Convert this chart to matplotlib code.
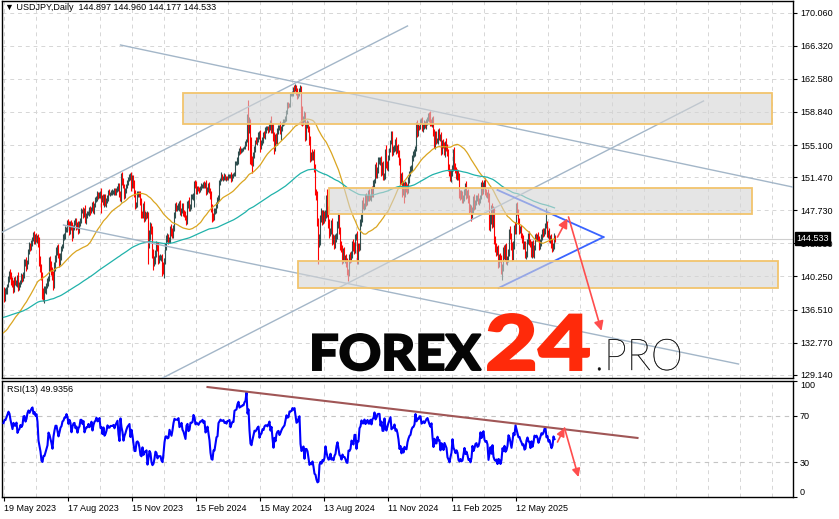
import numpy as np
import pandas as pd
import matplotlib
matplotlib.use("Agg")
import matplotlib.pyplot as plt
from matplotlib.patches import Rectangle, PathPatch
from matplotlib.textpath import TextPath
from matplotlib.font_manager import FontProperties
from matplotlib.transforms import Affine2D

# ---------------- data ----------------
# hidden warm-up closes (late Jul 2022 - 18 May 2023), only used for MA / RSI history
pre_closes = [
    136.7, 136.9, 136.6, 134.3, 133.2, 131.6, 133.2, 133.9, 133.0, 135.0,
    134.9, 135.0, 133.0, 133.0, 133.5, 133.3, 134.2, 134.9, 135.9, 136.9,
    137.5, 136.8, 137.2, 136.5, 137.5, 138.8, 138.7, 139.0, 140.2, 140.2,
    140.5, 142.8, 144.0, 144.1, 142.6, 142.8, 144.6, 143.2, 143.5, 143.0,
    143.2, 143.7, 144.4, 142.4, 143.3, 144.7, 144.8, 144.2, 144.5, 144.7,
    144.8, 144.2, 144.6, 145.1, 145.3, 145.7, 145.9, 146.9, 147.2, 148.7,
    149.0, 149.2, 149.9, 150.1, 147.7, 148.9, 148.0, 146.4, 146.3, 147.5,
    148.7, 148.2, 147.9, 148.3, 146.6, 146.6, 145.6, 146.5, 141.0, 138.8,
    139.9, 139.3, 139.5, 140.3, 140.4, 142.1, 141.2, 139.6, 138.6, 139.2,
    138.9, 138.1, 138.1, 135.3, 134.3, 136.8, 137.0, 136.6, 136.4, 136.6,
    137.6, 135.6, 135.5, 137.7, 136.7, 137.0, 131.7, 132.4, 132.3, 132.9,
    133.5, 134.5, 133.1, 131.1, 130.9, 132.1, 133.4, 132.1,
    131.9, 132.3, 132.5, 129.1, 127.9, 128.6, 131.1, 128.9, 128.4, 129.6,
    130.7, 130.2, 129.2, 130.2, 129.9, 130.4, 130.1, 128.9, 128.7, 131.2,
    132.6, 131.1, 131.4, 131.4, 131.4, 132.4, 133.2, 134.1, 134.0, 134.2,
    134.3, 134.9, 134.9, 134.7, 136.5, 136.2, 136.2, 136.2, 136.7, 135.9,
    135.9, 137.2, 137.3, 136.1, 134.9, 133.1, 134.2, 133.4, 133.7, 131.8,
    131.3, 132.5, 131.4, 130.8, 130.8, 131.5, 130.9, 132.9, 132.7, 132.8,
    132.4, 131.4, 131.3, 131.8, 132.2, 133.6, 133.7, 133.9, 132.7, 133.8,
    134.5, 134.1, 134.7, 134.2, 134.1, 134.2, 133.7, 133.6, 133.9, 136.3,
    137.5, 136.6, 134.8, 134.3, 134.8, 135.1, 135.3, 134.3, 134.5, 135.7,
    136.1, 136.4, 137.6, 138.7,
]

# daily closes, 19 May 2023 -> 4 Jul 2025 (one bar per pixel); open = previous close
closes = [
    137.9,
    138.6, 138.6, 139.2, 139.9, 140.6, 140.4, 139.8, 139.3, 138.8, 139.9,
    139.6, 139.6, 140.1, 139.0, 139.4, 139.6, 140.2, 140.0, 140.3, 141.8,
    141.9, 141.4, 141.9, 143.1, 143.7, 143.5, 144.0, 144.5, 144.8, 144.3,
    144.7, 144.4, 144.7, 144.1, 142.1, 141.3, 140.4, 138.4, 138.1, 138.8,
    138.8, 139.2, 139.6, 140.0, 141.8, 141.5, 140.9, 140.3, 139.4, 141.2,
    142.3, 143.3, 143.3, 142.6, 141.8, 142.5, 143.4, 143.7, 144.7, 144.9,
    145.6, 145.6, 146.4, 146.1, 145.4, 146.2, 145.9, 144.8, 145.8, 146.4,
    146.5, 145.9, 146.2, 145.5, 146.2, 146.5, 147.7, 147.7, 147.3, 147.8,
    146.6, 147.1, 147.4, 147.4, 147.9, 147.6, 147.9, 148.4, 147.6, 148.4,
    148.9, 149.1, 149.6, 149.3, 149.4, 149.8, 149.0, 149.1, 148.5, 149.3,
    148.5, 148.7, 149.1, 149.8, 149.6, 149.6, 149.8, 149.8, 149.8, 149.9,
    149.7, 150.0, 150.2, 150.4, 149.6, 149.1, 151.7, 150.9, 150.4, 149.4,
    150.0, 150.4, 150.9, 151.3, 151.5, 151.7, 150.4, 151.4, 150.7, 149.6,
    148.4, 148.4, 149.5, 149.6, 149.4, 148.7, 147.4, 147.2, 148.2, 146.8,
    147.2, 147.1, 147.3, 144.1, 144.9, 145.9, 145.4, 142.9, 141.9, 142.1,
    142.8, 143.8, 143.5, 142.1, 142.4, 142.4, 142.4, 141.4, 141.0,
    142.0, 143.6, 144.6, 144.6,
    144.3, 144.4, 145.7, 145.3, 144.9, 145.8, 147.2, 148.2, 148.1, 148.1,
    148.1, 148.4, 147.5, 147.7, 148.2, 147.5, 147.3, 146.9, 146.5, 148.4,
    148.7, 147.9, 148.1, 149.3, 149.3, 149.4, 150.8, 150.6, 149.9, 150.2,
    150.1, 150.0, 150.3, 150.5, 150.5, 150.7, 150.5, 150.7, 149.9, 150.1,
    150.5, 150.0, 149.4, 148.0, 147.0, 146.9, 147.7, 147.7, 148.3, 149.0,
    149.1, 150.9, 151.2, 151.5, 151.4, 151.4, 151.5, 151.3, 151.4, 151.3,
    151.6, 151.6, 151.7, 151.3, 151.6, 151.8, 151.8, 153.1, 153.2, 153.3,
    154.2, 154.7, 154.4, 154.6, 154.6, 154.8, 154.8, 155.3, 155.6, 158.3,
    156.8, 157.8, 155.5, 153.3, 153.0, 153.9, 154.7, 155.6, 155.5, 155.8,
    156.2, 156.4, 154.9, 155.4, 155.6, 156.3, 156.2, 156.8, 157.0, 157.0,
    156.9, 157.2, 157.6, 156.8, 157.3, 156.1, 154.8, 156.1, 155.6, 156.7,
    157.1, 157.2, 156.7, 157.0, 157.4, 157.7, 157.9, 158.1, 158.9, 159.8,
    159.6, 159.7, 160.8, 160.8, 160.9, 161.5, 161.4, 161.7, 161.2, 160.7,
    160.8, 161.3, 161.6, 159.0, 157.9, 158.1, 158.4, 156.2, 157.4, 157.4,
    157.0, 155.6, 153.8, 154.0, 153.7, 154.0, 152.6, 149.9, 149.4, 146.5,
    144.2, 144.3, 146.8, 147.3, 146.6, 147.2, 146.8, 147.3, 149.3, 147.6,
    146.2, 145.2, 145.3, 146.2, 144.3, 144.5, 143.9, 144.6, 144.9, 146.2,
    146.9, 145.5, 143.7, 143.4, 142.3, 143.1, 142.4, 142.4, 141.8, 140.8,
    140.7, 142.4, 142.3, 142.6, 143.9, 143.6, 143.2, 144.8, 144.8, 142.2,
    143.6, 143.5, 146.4, 146.9, 148.7, 148.2, 148.2, 149.3, 148.6, 149.1,
    149.7, 149.2, 149.2, 150.1, 149.5, 150.8, 151.1, 152.7, 151.8, 152.3,
    153.3, 153.4, 153.4, 152.0, 152.9, 151.6, 151.6, 154.6, 152.9, 152.6,
    153.7, 154.6, 155.4, 156.3, 154.3, 154.7, 154.7, 155.5, 154.5, 154.8,
    154.2, 153.1, 151.1, 151.6, 149.8, 150.6, 149.6, 150.6, 150.1, 150.0,
    151.2, 151.9, 152.4, 152.6, 153.6, 154.1, 154.2, 154.7, 157.4, 156.4,
    157.2, 157.1, 157.9, 157.9,
    157.0, 157.2, 157.5, 157.3,
    157.7, 158.1, 158.3, 158.0, 157.7, 157.5, 158.0, 156.6, 155.2, 156.3,
    155.6, 155.6, 156.5, 156.0, 156.0, 154.5, 155.4, 155.2, 154.3, 155.2,
    154.8, 154.4, 152.6, 152.1, 151.4, 152.0, 152.5, 154.4, 152.8, 152.3,
    151.6, 152.0, 151.5, 149.7, 149.3, 149.6, 149.0, 149.1, 149.8, 150.6,
    149.4, 149.7, 149.0, 147.9, 148.0, 147.2, 147.7, 149.2, 148.2, 148.6,
    149.2, 149.3, 148.7, 148.8, 149.3, 150.7, 149.9, 150.6, 151.0, 149.8,
    149.5, 149.6, 149.1, 146.0, 146.9, 147.8, 146.3, 147.7, 144.5, 143.5,
    143.1, 143.3, 141.7, 142.5, 142.2, 140.8, 141.4, 143.4, 142.6, 143.6,
    142.0, 142.3, 143.1, 145.4, 144.9, 143.7, 142.4, 143.9, 145.9, 145.4,
    148.4, 147.5, 146.6, 145.6, 145.7, 144.9, 144.4, 143.7, 143.9, 142.6,
    142.8, 144.3, 144.9, 144.1, 144.0, 142.7, 143.9, 142.7, 143.5, 144.9,
    144.6, 144.9, 144.5, 143.6, 144.1, 144.7, 145.3, 145.1, 145.4, 146.1,
    146.2, 145.0, 145.2, 144.4, 144.6, 144.0, 143.4, 143.7, 144.897, 144.533,
]

# wick above max(open, close) and below min(open, close), yen, per bar
upper_wicks = [
    0.4,
    0.3, 0.5, 0.2, 0.4, 0.3, 0.5, 0.3, 0.4, 0.6, 0.3,
    0.4, 0.3, 0.3, 0.7, 0.2, 0.3, 0.4, 0.3, 0.5, 0.4,
    0.3, 0.6, 0.2, 0.3, 0.4, 0.3, 0.4, 0.2, 0.5, 0.6,
    0.3, 0.5, 0.2, 0.4, 0.6, 0.5, 0.4, 0.3, 0.5, 0.4,
    0.4, 0.3, 0.5, 0.3, 0.6, 0.8, 0.5, 0.4, 0.6, 0.7,
    0.4, 0.3, 0.5, 0.6, 0.3, 0.4, 0.3, 0.2, 0.4, 0.3,
    0.3, 0.2, 0.2, 0.3, 0.4, 0.3, 0.4, 0.5, 0.3, 0.2,
    0.3, 0.4, 0.2, 0.3, 0.3, 0.4, 0.3, 0.2, 0.4, 0.2,
    0.5, 0.3, 0.2, 0.3, 0.2, 0.3, 0.2, 0.3, 0.4, 0.2,
    0.3, 0.2, 0.3, 0.2, 0.4, 0.1, 0.4, 0.3, 0.5, 0.3,
    0.3, 0.4, 0.3, 0.2, 0.3, 0.2, 0.2, 0.3, 0.2, 0.3,
    0.3, 0.2, 0.3, 0.4, 0.4, 0.3, 0.2, 0.3, 0.5, 0.3,
    0.2, 0.3, 0.2, 0.2, 0.3, 0.2, 0.4, 0.3, 0.3, 0.5,
    0.4, 0.3, 0.4, 0.3, 0.3, 0.5, 0.4, 0.3, 0.4, 0.6,
    0.4, 0.3, 0.3, 0.2, 0.6, 0.5, 0.4, 0.5, 0.4, 0.5,
    0.4, 0.5, 0.3, 0.6, 0.3, 0.4, 0.3, 0.4, 0.5,
    0.3, 0.4, 0.3, 0.6,
    0.4, 0.3, 0.3, 0.5, 0.4, 0.3, 0.3, 0.4, 0.5, 0.2,
    0.4, 0.4, 0.5, 0.3, 0.3, 0.4, 0.3, 0.4, 0.3, 0.4,
    0.2, 0.5, 0.3, 0.3, 0.3, 0.3, 0.2, 0.4, 0.4, 0.3,
    0.3, 0.3, 0.2, 0.3, 0.2, 0.2, 0.3, 0.2, 0.4, 0.3,
    0.3, 0.4, 0.3, 0.5, 0.4, 0.4, 0.3, 0.3, 0.4, 0.2,
    0.4, 0.2, 0.2, 0.5, 0.3, 0.2, 0.4, 0.3, 0.2, 0.2,
    0.2, 0.2, 0.1, 0.3, 0.2, 0.1, 0.2, 0.2, 0.1, 0.5,
    0.2, 0.1, 0.3, 0.2, 0.2, 0.1, 0.2, 0.3, 0.2, 0.3,
    1.9, 0.5, 0.2, 0.5, 0.6, 0.4, 0.3, 0.1, 0.4, 0.2,
    0.4, 0.3, 0.4, 0.3, 0.4, 0.3, 0.4, 0.3, 0.2, 0.3,
    0.3, 0.4, 0.3, 0.8, 0.3, 0.3, 0.5, 0.3, 0.4, 0.3,
    0.3, 0.2, 0.6, 0.3, 0.3, 0.3, 0.2, 0.3, 0.2, 0.2,
    0.2, 0.2, 0.2, 0.2, 0.3, 0.2, 0.4, 0.3, 0.2, 0.3,
    0.2, 0.3, 0.3, 0.2, 0.5, 0.3, 0.5, 0.4, 0.3, 0.5,
    0.4, 0.3, 0.5, 0.3, 0.6, 0.4, 0.6, 0.4, 0.2, 0.5,
    0.3, 0.8, 0.4, 0.7, 0.5, 0.6, 0.4, 0.5, 0.1, 0.8,
    0.6, 0.5, 0.4, 0.4, 0.6, 0.5, 0.4, 0.5, 0.3, 0.3,
    0.5, 0.4, 0.3, 0.5, 0.4, 0.4, 0.5, 0.3, 0.4, 0.5,
    0.3, 0.4, 0.6, 0.5, 0.4, 0.6, 0.5, 0.3, 0.4, 0.6,
    0.4, 0.4, 0.3, 0.5, 0.2, 0.5, 0.4, 0.3, 0.4, 0.3,
    0.3, 0.4, 0.3, 0.2, 0.4, 0.3, 0.2, 0.3, 0.5, 0.3,
    0.5, 0.3, 0.4, 0.5, 0.3, 0.4, 0.3, 0.1, 0.5, 0.4,
    0.3, 0.2, 0.3, 0.4, 0.4, 0.3, 0.4, 0.3, 0.5, 0.3,
    0.4, 0.3, 0.5, 0.3, 0.4, 0.4, 0.3, 0.4, 0.3, 0.6,
    0.3, 0.3, 0.3, 0.2, 0.4, 0.3, 0.4, 0.3, 0.3, 0.5,
    0.3, 0.2, 0.2, 0.3,
    0.4, 0.3, 0.4, 0.3,
    0.3, 0.2, 0.4, 0.5, 0.9, 0.3, 0.3, 0.4, 0.3, 0.4,
    0.4, 0.3, 0.4, 0.5, 0.3, 0.6, 0.3, 0.4, 0.3, 0.4,
    0.7, 0.4, 0.3, 0.4, 0.3, 0.4, 0.3, 0.2, 0.5, 0.3,
    0.3, 0.4, 0.3, 0.4, 0.3, 0.4, 0.3, 0.4, 0.3, 0.2,
    0.4, 0.3, 0.4, 0.5, 0.4, 0.3, 0.4, 0.1, 0.4, 0.3,
    0.3, 0.2, 0.4, 0.3, 0.2, 0.2, 0.4, 0.3, 0.2, 0.4,
    0.3, 0.2, 0.5, 0.6, 0.4, 0.5, 0.8, 0.5, 0.4, 0.3,
    0.5, 0.4, 0.5, 0.3, 0.4, 0.5, 0.3, 0.2, 0.4, 0.3,
    0.4, 0.3, 0.3, 0.2, 0.6, 0.3, 0.4, 0.3, 0.2, 0.5,
    0.2, 0.3, 0.4, 0.3, 0.3, 0.4, 0.3, 0.5, 0.3, 0.4,
    0.3, 0.2, 0.3, 0.5, 0.4, 0.3, 0.3, 0.5, 0.3, 0.2,
    0.3, 0.2, 0.4, 0.3, 0.4, 0.3, 0.3, 0.4, 0.3, 0.2,
    1.8, 0.3, 0.3, 0.5, 0.3, 0.4, 0.5, 0.3, 0.3, 0.06,
]
lower_wicks = [
    0.5,
    0.4, 0.3, 0.3, 0.2, 0.3, 0.4, 0.5, 0.3, 0.4, 0.3,
    0.3, 0.4, 0.5, 0.4, 0.3, 0.3, 0.2, 0.4, 0.3, 0.2,
    0.4, 0.5, 0.3, 0.2, 0.3, 0.4, 0.3, 0.3, 0.2, 0.4,
    0.4, 0.3, 0.4, 0.5, 0.7, 0.6, 0.5, 0.7, 0.6, 0.9,
    0.4, 0.5, 0.3, 0.4, 0.3, 0.6, 0.5, 0.4, 0.7, 0.5,
    0.3, 0.4, 0.6, 0.3, 0.5, 0.3, 0.4, 0.3, 0.2, 0.3,
    0.4, 0.3, 0.3, 0.2, 0.5, 0.3, 0.4, 0.5, 0.2, 0.3,
    0.3, 0.4, 0.3, 0.4, 0.3, 0.3, 0.2, 0.3, 0.4, 0.3,
    0.3, 0.4, 0.3, 0.2, 0.3, 0.4, 0.2, 0.3, 0.2, 0.3,
    0.3, 0.2, 0.3, 0.3, 0.2, 0.3, 1.6, 0.3, 0.2, 0.4,
    0.3, 0.4, 0.2, 0.3, 0.2, 0.3, 0.2, 0.3, 0.2, 0.3,
    0.2, 0.3, 0.2, 0.3, 0.4, 0.3, 0.4, 0.3, 0.2, 0.4,
    0.3, 0.3, 0.2, 0.3, 0.3, 0.3, 0.5, 0.2, 0.4, 0.4,
    0.5, 0.4, 0.3, 0.3, 0.2, 0.4, 0.5, 0.4, 0.3, 0.4,
    0.3, 0.4, 0.3, 2.4, 0.6, 0.5, 0.4, 0.6, 0.9, 0.5,
    0.4, 0.3, 0.4, 0.5, 0.3, 0.3, 0.4, 1.1, 0.5,
    0.9, 0.3, 0.4, 0.5,
    0.4, 0.3, 0.4, 0.5, 0.3, 0.3, 0.4, 0.3, 0.4, 0.5,
    0.3, 0.4, 0.3, 0.4, 0.3, 0.4, 0.3, 0.3, 0.4, 0.3,
    0.4, 0.3, 0.3, 0.2, 0.3, 0.4, 1.3, 0.3, 0.3, 0.3,
    0.2, 0.3, 0.2, 0.3, 0.2, 0.3, 0.2, 0.3, 0.4, 0.3,
    0.3, 0.3, 0.4, 0.5, 0.6, 0.4, 0.3, 0.4, 0.3, 0.3,
    0.4, 0.3, 0.3, 0.2, 0.3, 0.4, 0.2, 0.2, 0.3, 0.2,
    0.2, 0.2, 0.2, 0.4, 0.3, 0.2, 0.2, 0.2, 0.2, 0.3,
    0.3, 0.2, 0.3, 0.2, 0.3, 0.2, 0.2, 0.2, 0.3, 0.2,
    2.3, 0.3, 2.5, 0.5, 1.1, 0.3, 0.3, 0.4, 0.3, 0.4,
    0.3, 0.4, 0.6, 0.3, 0.3, 0.3, 0.3, 0.4, 0.3, 0.2,
    0.4, 0.3, 0.4, 0.3, 0.3, 0.5, 0.7, 0.4, 0.4, 0.5,
    0.3, 0.3, 0.4, 1.0, 0.3, 0.2, 0.3, 0.2, 0.3, 0.3,
    0.3, 0.2, 0.3, 0.2, 0.2, 0.3, 0.3, 0.2, 0.4, 0.4,
    0.3, 0.2, 0.2, 1.6, 0.6, 0.5, 0.4, 0.6, 0.5, 0.4,
    0.4, 0.5, 0.6, 0.5, 0.3, 0.3, 0.6, 0.5, 0.5, 0.6,
    2.5, 0.6, 0.5, 0.4, 0.5, 0.4, 0.5, 0.3, 0.4, 0.6,
    0.5, 0.6, 0.4, 0.3, 0.5, 0.4, 0.6, 0.4, 0.5, 0.4,
    0.5, 0.4, 0.5, 0.4, 0.6, 0.5, 0.4, 0.6, 0.5, 0.4,
    1.0, 0.4, 0.5, 0.4, 0.3, 0.5, 0.4, 0.3, 0.4, 0.6,
    0.5, 0.4, 0.3, 0.4, 0.5, 0.3, 0.4, 0.3, 0.4, 0.3,
    0.3, 0.4, 0.3, 0.4, 0.3, 0.3, 0.4, 0.3, 0.4, 0.4,
    0.4, 0.3, 0.5, 0.4, 0.3, 0.5, 0.4, 0.3, 0.4, 0.3,
    0.4, 0.3, 0.3, 0.2, 0.4, 0.3, 0.4, 0.3, 0.4, 0.3,
    0.4, 0.3, 0.5, 0.4, 0.6, 0.3, 1.0, 0.4, 0.3, 0.4,
    0.3, 0.4, 0.3, 0.3, 0.4, 0.3, 0.4, 0.3, 0.3, 0.4,
    0.3, 0.3, 0.2, 0.3,
    0.3, 0.4, 0.3, 0.3,
    0.4, 0.3, 0.3, 0.3, 0.4, 0.3, 0.4, 0.5, 0.4, 0.5,
    0.4, 0.3, 0.4, 0.3, 0.4, 0.5, 0.4, 0.4, 0.3, 0.5,
    0.4, 0.5, 0.4, 0.5, 0.4, 0.5, 0.4, 0.3, 0.5, 0.4,
    0.3, 0.4, 0.4, 0.6, 0.4, 0.3, 0.5, 0.4, 0.3, 0.4,
    0.4, 0.3, 0.4, 0.5, 0.4, 0.7, 0.4, 0.3, 0.4, 0.3,
    0.3, 0.4, 0.3, 0.4, 0.3, 0.3, 0.4, 0.3, 0.4, 0.3,
    0.3, 0.4, 0.4, 0.5, 0.6, 0.7, 0.6, 0.5, 0.6, 0.5,
    0.5, 0.4, 0.5, 0.4, 0.3, 0.3, 0.9, 0.5, 0.4, 0.5,
    0.4, 0.5, 0.4, 0.5, 0.4, 0.5, 0.4, 0.3, 0.5, 0.4,
    0.4, 0.3, 0.4, 0.5, 0.4, 0.3, 0.4, 0.3, 0.4, 0.3,
    0.4, 0.3, 0.4, 0.3, 0.4, 0.3, 0.4, 0.3, 0.4, 0.3,
    0.3, 0.4, 0.3, 0.4, 0.3, 0.4, 0.3, 0.4, 0.3, 0.4,
    0.4, 0.3, 0.4, 0.3, 0.4, 0.5, 0.4, 0.3, 0.4, 0.36,
]

date_labels = ["19 May 2023", "17 Aug 2023", "15 Nov 2023", "15 Feb 2024",
               "15 May 2024", "13 Aug 2024", "11 Nov 2024", "11 Feb 2025", "12 May 2025"]
price_ticks = [170.060, 166.320, 162.580, 158.840, 155.100, 151.470,
               147.730, 143.990, 140.250, 136.510, 132.770, 129.140]
rsi_ticks = [100, 70, 30, 0]
rsi_levels = [70, 30]
header_ohlc = [144.897, 144.960, 144.177, 144.533]
last_price = 144.533
rsi_value = 49.9356

# drawn objects: [bar_start, bar_end, price_low, price_high]
zones = [[179, 768, 157.48, 160.95],
         [325, 748, 147.27, 150.28],
         [294, 774, 138.89, 141.96]]
# [bar1, price1, bar2, price2]
channel_lines = [[117, 166.41, 789, 150.36],
                 [-3, 145.16, 404, 168.56],
                 [60, 146.06, 735, 130.35],
                 [157, 128.65, 700, 160.08]]
triangle_lines = [[494, 150.02, 600, 144.70],
                  [495, 138.94, 600, 144.70]]
price_arrows = [[554, 144.70, 564, 146.80],
                [565, 146.97, 598, 134.10]]
rsi_trend = [204, 94.8, 634, 50.9]
rsi_arrows = [[554, 47.4, 561, 59.5],
              [561, 59.5, 575, 17.2]]

# ---------------- derived series ----------------
all_c = pd.Series(pre_closes + closes, dtype=float)
n = len(closes)
npre = len(pre_closes)
ma_fast = all_c.rolling(50).mean().to_numpy()[npre:]
ma_slow = all_c.ewm(span=200, adjust=False).mean().to_numpy()[npre:]
d = all_c.diff()
ag = d.clip(lower=0).ewm(alpha=1 / 13, adjust=False).mean()
al = (-d).clip(lower=0).ewm(alpha=1 / 13, adjust=False).mean()
rsi = (100 - 100 / (1 + ag / al)).to_numpy()[npre:]

cl = np.array(closes)
op = all_c.to_numpy()[npre - 1:-1]
idx = np.arange(n)
up = cl >= op
lo = np.minimum(op, cl) - np.array(lower_wicks)
hi = np.maximum(op, cl) + np.array(upper_wicks)

# ---------------- figure ----------------
W, H = 839, 519
fig = plt.figure(figsize=(W / 100, H / 100), dpi=100)
fig.patch.set_facecolor("white")
FONT = ["Liberation Sans", "DejaVu Sans"]
plt.rcParams["font.family"] = FONT


def px_axes(x0, y0, x1, y1):
    return fig.add_axes([x0 / W, 1 - y1 / H, (x1 - x0) / W, (y1 - y0) / H])


ax = px_axes(2, 1, 793, 378)
axr = px_axes(2, 381, 793, 497)

XL = (-1.5, 789.5)
grid_kw = dict(color="#d6d6d6", lw=0.7, ls=(0, (4, 4)), zorder=0)

# --- main panel ---
ax.set_xlim(*XL)
top = 170.06 + (12.7 - 1) / 8.847
bot = 170.06 - (378 - 12.7) / 8.847
ax.set_ylim(bot, top)
for gx in range(0, 790, 32):
    ax.axvline(gx, **grid_kw)
for gy in price_ticks:
    ax.axhline(gy, **grid_kw)
ax.axhline(last_price, color="#cfcfcf", lw=0.8, zorder=0.5)

ax.vlines(idx[up], lo[up], hi[up], color="#2f4f4f", lw=0.8, zorder=2)
ax.vlines(idx[~up], lo[~up], hi[~up], color="#ff0000", lw=0.8, zorder=2)
ax.plot(idx, ma_fast, color="#daa520", lw=0.9, zorder=3)
ax.plot(idx, ma_slow, color="#20b2aa", lw=0.9, zorder=3)

for x1, y1, x2, y2 in channel_lines:
    ax.plot([x1, x2], [y1, y2], color="#a3b6c8", lw=1.0, zorder=4)
for x1, y1, x2, y2 in triangle_lines:
    ax.plot([x1, x2], [y1, y2], color="#3a64ff", lw=1.3, zorder=4)

for x0, x1, p0, p1 in zones:
    ax.add_patch(Rectangle((x0, p0), x1 - x0, p1 - p0,
                           facecolor=(0.83, 0.83, 0.83, 0.6),
                           edgecolor="#f2c46d", lw=1.3, zorder=5))

for x1, y1, x2, y2 in price_arrows:
    ax.annotate("", xy=(x2, y2), xytext=(x1, y1),
                arrowprops=dict(arrowstyle="-|>", color="#ff4d4d", lw=1.2,
                                mutation_scale=14, shrinkA=0, shrinkB=0),
                zorder=6)

ax.yaxis.tick_right()
ax.set_yticks(price_ticks)
ax.set_yticklabels([f"{v:.3f}" for v in price_ticks])
ax.tick_params(axis="y", direction="out", length=3, width=0.8, labelsize=6.5, pad=2)
ax.set_xticks([])
for s in ax.spines.values():
    s.set_color("black")
    s.set_linewidth(1.0)

ax.text(1.004, last_price, f"{last_price:.3f}", transform=ax.get_yaxis_transform(),
        fontsize=6.5, color="white", ha="left", va="center", zorder=10, clip_on=False,
        bbox=dict(boxstyle="square,pad=0.18", fc="black", ec="black"))

hdr = "\u25bc USDJPY,Daily  " + " ".join(f"{v:.3f}" for v in header_ohlc)
fig.text(5 / W, 1 - 3.5 / H, hdr, fontsize=6.5, va="top", ha="left", family=FONT)

# --- RSI panel ---
axr.set_xlim(*XL)
axr.set_ylim(0, 100)
for gx in range(0, 790, 32):
    axr.axvline(gx, **grid_kw)
for lv in rsi_levels:
    axr.axhline(lv, color="#c4c4c4", lw=0.8, ls=(0, (4, 4)), zorder=0)
axr.plot(idx, rsi, color="#0000ff", lw=1.5, zorder=3)
axr.plot([rsi_trend[0], rsi_trend[2]], [rsi_trend[1], rsi_trend[3]],
         color="#a05656", lw=1.5, zorder=4)
for x1, y1, x2, y2 in rsi_arrows:
    axr.annotate("", xy=(x2, y2), xytext=(x1, y1),
                 arrowprops=dict(arrowstyle="-|>", color="#ff4d4d", lw=1.2,
                                 mutation_scale=12, shrinkA=0, shrinkB=0),
                 zorder=6)
axr.yaxis.tick_right()
axr.set_yticks(rsi_ticks)
axr.set_yticklabels([str(v) for v in rsi_ticks])
axr.tick_params(axis="y", direction="out", length=3, width=0.8, labelsize=6.5, pad=2)
labs = axr.get_yticklabels()
labs[0].set_va("top")
labs[-1].set_va("bottom")
axr.set_xticks(list(range(0, 64 * len(date_labels), 64)))
axr.set_xticklabels(date_labels)
axr.tick_params(axis="x", direction="out", length=3, width=0.8, labelsize=6.5, pad=2)
for lbl in axr.get_xticklabels():
    lbl.set_ha("left")
for s in axr.spines.values():
    s.set_color("black")
    s.set_linewidth(1.0)
fig.text(7 / W, 1 - 385 / H, f"RSI(13) {rsi_value:.4f}", fontsize=6.5, va="top", ha="left")


# --- watermark (glyph outlines fitted to boxes measured in pixels) ---
def word(text, box, color, weight, stroke):
    x0, ytop, x1, ybase = box
    tp = TextPath((0, 0), text, size=100, prop=FontProperties(family="Lato", weight=weight))
    ext = tp.get_extents()
    sx = (x1 - x0) / ext.width
    sy = (ybase - ytop) / ext.y1
    tr = Affine2D().translate(-ext.x0, 0).scale(sx, sy).translate(x0, H - ybase)
    fig.add_artist(PathPatch(tp, transform=tr, facecolor=color, edgecolor=color,
                             lw=stroke, zorder=20))


word("FOREX", (313, 334, 481, 370), "#050505", "black", 1.4)
word("24", (488, 314, 589, 370), "#ff2a0a", "black", 1.4)
word(".PRO", (598, 339, 680, 370), "#111111", "light", 0.3)

fig.savefig("out.png", dpi=100, facecolor="white")
